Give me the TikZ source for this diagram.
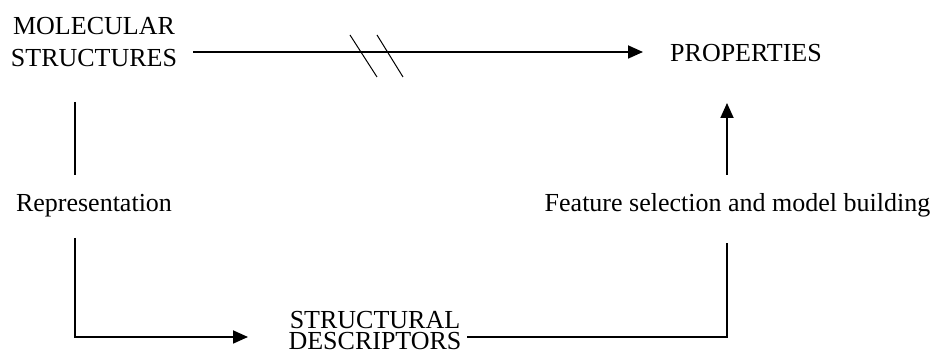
\documentclass[tikz,border=0pt]{standalone}
\usepackage{fontspec}
\setmainfont{Liberation Serif}
\usetikzlibrary{arrows.meta}

\tikzset{
  label/.style={inner sep=0pt, font=\fontsize{26}{32}\selectfont, align=center},
  link/.style={line width=1.8pt},
  arr/.style={link, -{Triangle[length=15pt, width=13pt]}},
  slash/.style={line width=1pt}
}

\begin{document}
\begin{tikzpicture}[x=1pt, y=1pt]
  \useasboundingbox (0,0) rectangle (937,352);

  % stages and transitions (multi-line nodes sit on their last line)
  \node[label, anchor=base] (mol) at (94,285) {MOLECULAR\\STRUCTURES};
  \node[label, anchor=base] (prop) at (746,290) {PROPERTIES};
  \node[label, anchor=base, font=\fontsize{26}{21}\selectfont] (desc) at (375,2) {STRUCTURAL\\DESCRIPTORS};
  \node[label, anchor=base] (rep) at (94,140) {Representation};
  \node[label, anchor=base] (feat) at (737.5,140) {Feature selection and model building};

  % corner and end points of the loop
  \coordinate (molout) at (75,250);
  \coordinate (repin) at (75,177);
  \coordinate (repout) at (75,114);
  \coordinate (lc) at (75,15);
  \coordinate (descin) at (248,15);
  \coordinate (descout) at (467,15);
  \coordinate (rc) at (727,15);
  \coordinate (featin) at (727,109);
  \coordinate (featout) at (727,177);
  \coordinate (propin) at (727,249);
  \coordinate (dirout) at (193,300);
  \coordinate (dirin) at (643,300);

  % direct route (broken)
  \draw[arr] (dirout) -- (dirin);
  \draw[slash] (350,317) -- (377,275);
  \draw[slash] (377,317) -- (403,275);

  % indirect route through descriptors
  \draw[link] (molout) -- (repin);
  \draw[arr] (repout) -- (lc) -- (descin);
  \draw[link] (descout) -- (rc) -- (featin);
  \draw[arr] (featout) -- (propin);
\end{tikzpicture}
\end{document}
